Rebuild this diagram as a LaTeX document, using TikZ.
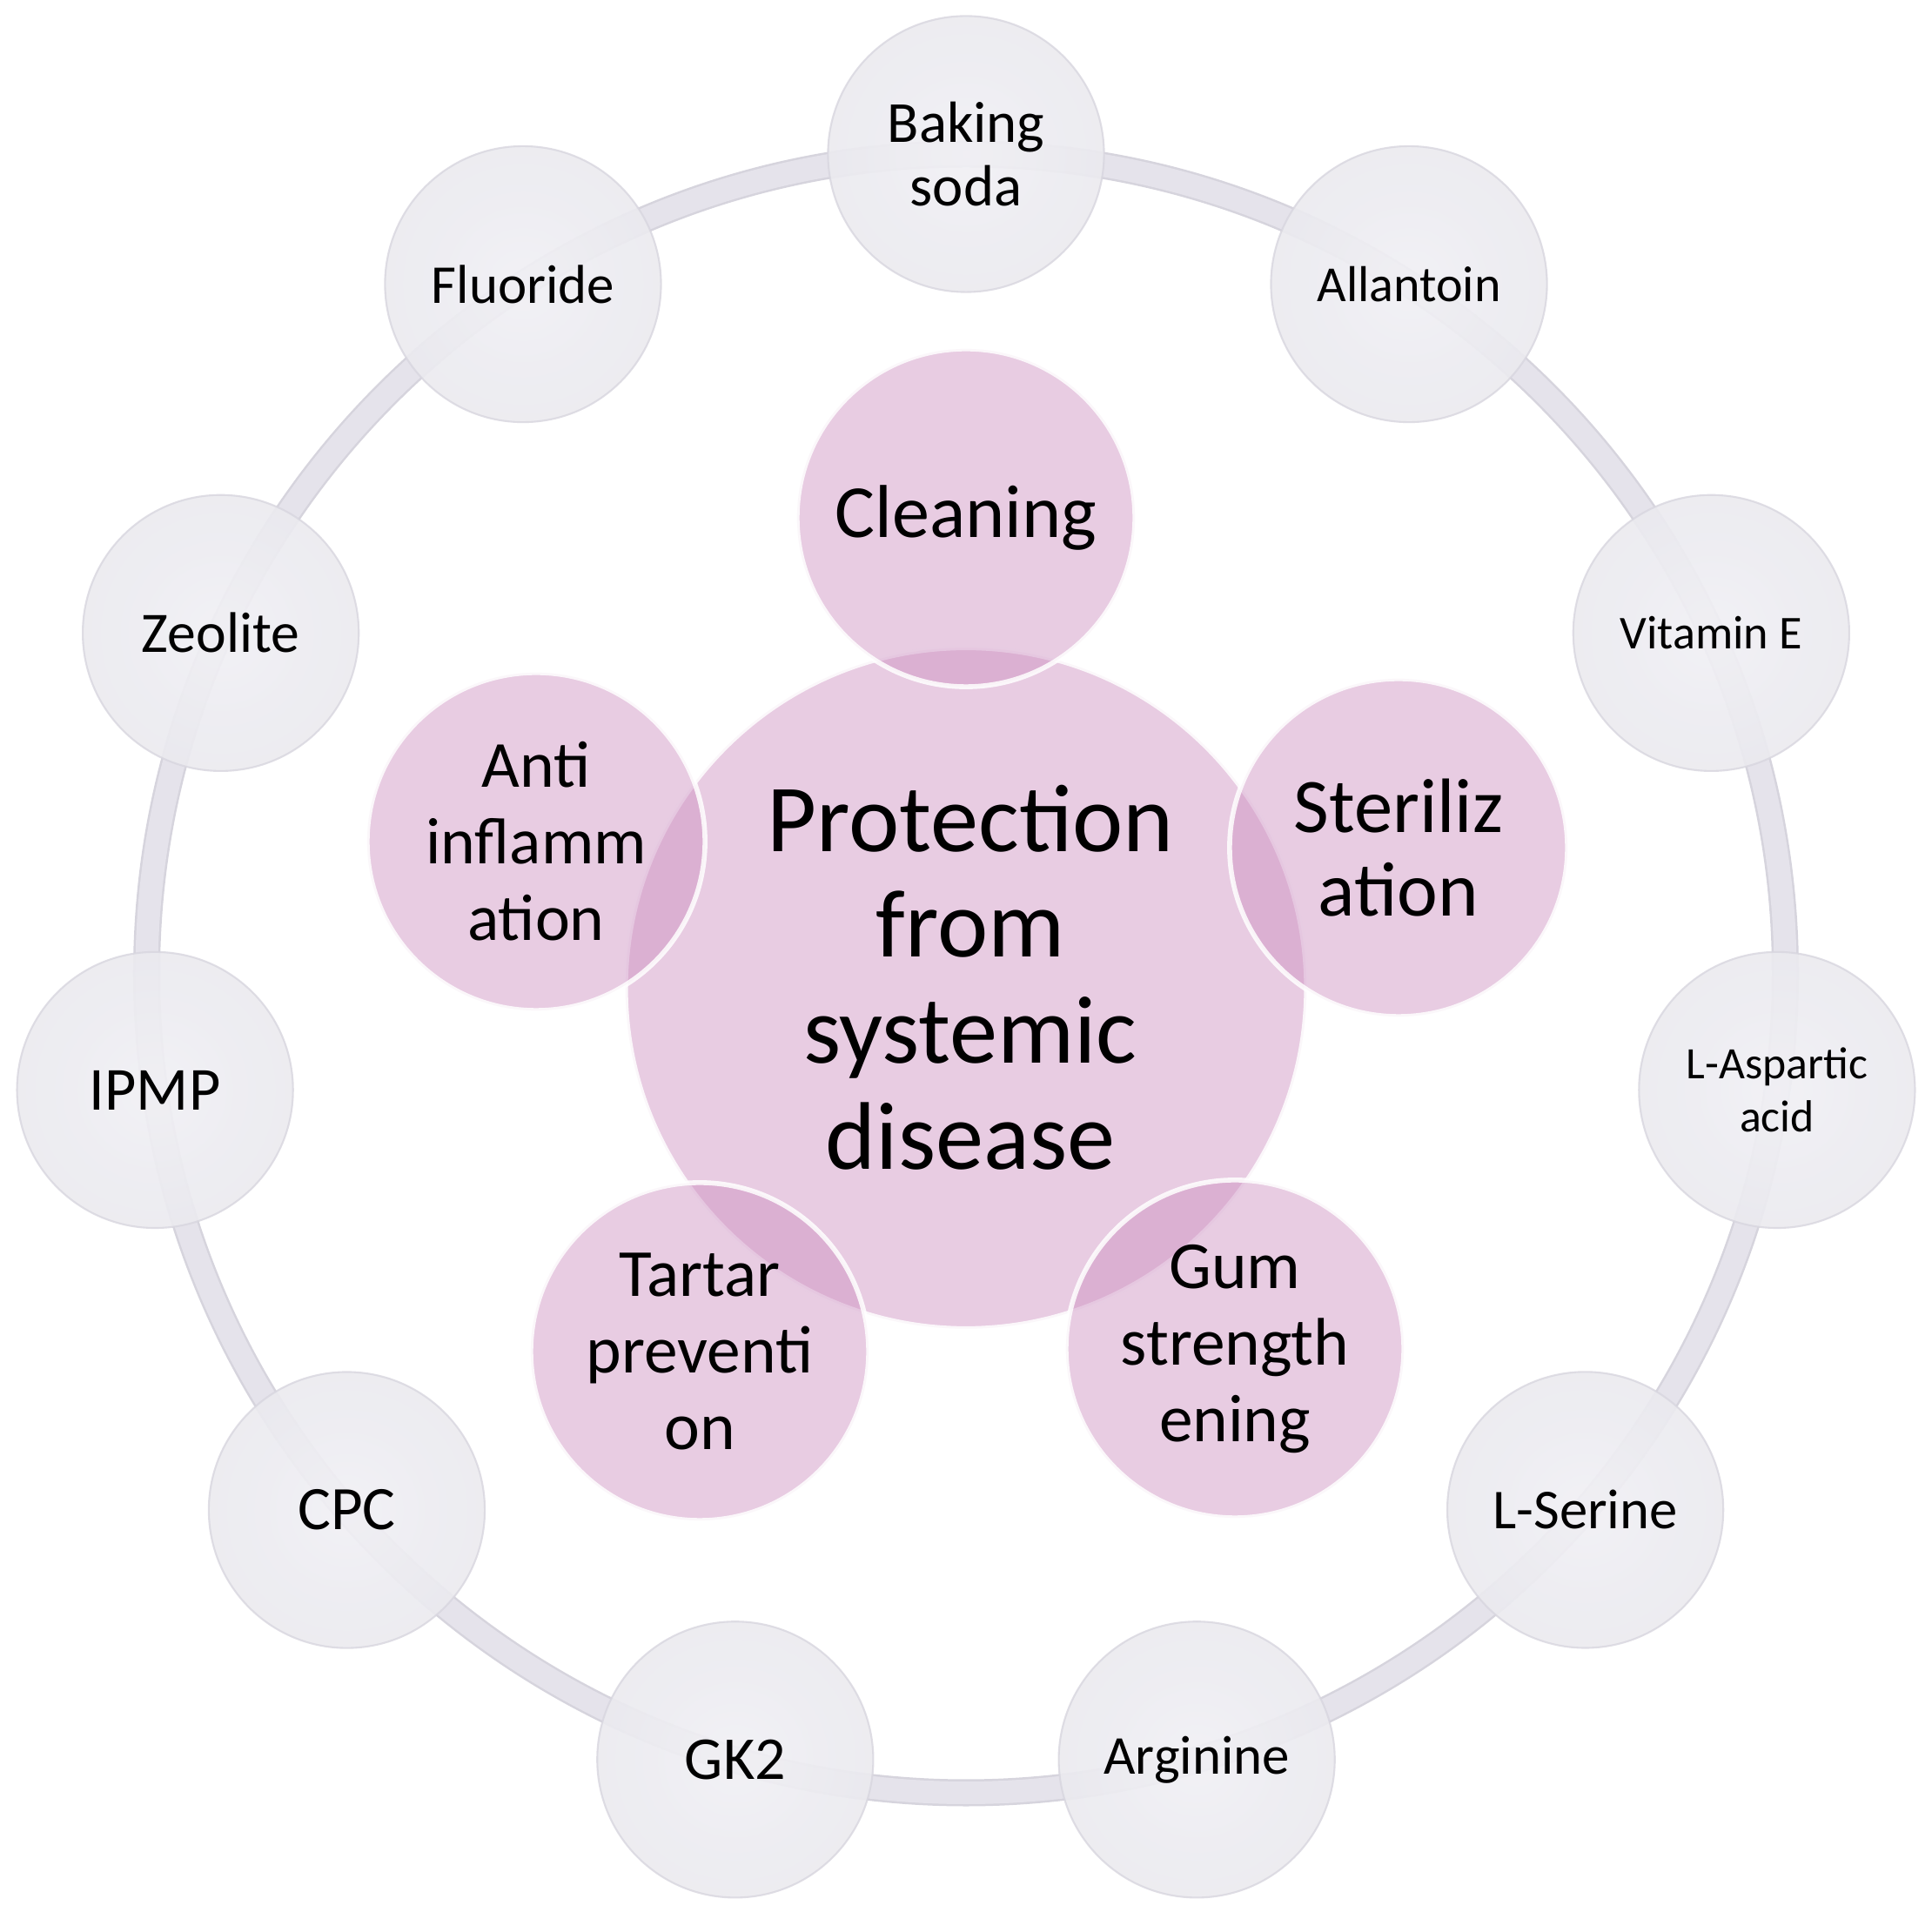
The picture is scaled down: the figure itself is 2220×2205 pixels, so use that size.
\documentclass[tikz,border=0pt]{standalone}
\usepackage{fontspec}
\setmainfont{Carlito}
\usetikzlibrary{calc}
\usepackage{xcolor}
\definecolor{glassbase}{HTML}{E5E4EB}
\definecolor{glassrim}{HTML}{D8D6DF}
\definecolor{ringband}{HTML}{E5E3EB}
\definecolor{ringedge}{HTML}{D6D4DD}
\definecolor{pinkbase}{RGB}{204,142,191}
\pgfdeclareradialshading{glassball}{\pgfpoint{0bp}{0bp}}{color(0bp)=(white!45!glassbase); color(26bp)=(white!20!glassbase); color(40bp)=(glassbase); color(45bp)=(glassbase!92!black); color(47.5bp)=(white); color(50bp)=(white!70!glassbase)}
\newcommand\fsz[2]{\fontsize{#1}{#2}\selectfont}

\begin{document}
\begin{tikzpicture}[x=0.01cm, y=0.01cm,
    outer/.style={circle, minimum size=3.17cm, inner sep=0pt, align=center, shade, shading=glassball, fill opacity=0.92, text opacity=1, draw=glassrim, draw opacity=0.8, line width=0.6pt},
    bubble/.style={circle, minimum size=3.88cm, inner sep=0pt, align=center, fill=pinkbase, fill opacity=0.45, text opacity=1, draw=white, draw opacity=0.85, line width=1.6pt},
    hub/.style={bubble, minimum size=7.82cm}]
    \useasboundingbox (0,0) rectangle (2220,2205);
    \coordinate (ringc) at (1110,1086.5);
    % ring behind the outer circles
    \draw[ringedge, line width=0.31cm] (ringc) circle (941.5);
    \draw[ringband, line width=0.26cm] (ringc) circle (941.5);
    % ingredients
    \node[outer, font=\fsz{19}{21}]     (bsoda)    at ($(ringc)+(90:941.5)$)     {Baking\\soda};
    \node[outer, font=\fsz{16.5}{19}]   (allant)   at ($(ringc)+(57.27:941.5)$)  {Allantoin};
    \node[outer, font=\fsz{15.4}{18}]   (vite)     at ($(ringc)+(24.55:941.5)$)  {Vitamin E};
    \node[outer, font=\fsz{14.7}{17.5}] (lasp)     at ($(ringc)+(-8.18:941.5)$)  {L-Aspartic\\acid};
    \node[outer, font=\fsz{18.4}{21}]   (lser)     at ($(ringc)+(-40.9:941.5)$)  {L-Serine};
    \node[outer, font=\fsz{17.9}{21}]   (argin)    at ($(ringc)+(-73.64:941.5)$) {Arginine};
    \node[outer, font=\fsz{19.9}{22}]   (gktwo)    at ($(ringc)+(-106.36:941.5)$) {GK2};
    \node[outer, font=\fsz{20.2}{22}]   (cpc)      at ($(ringc)+(-139.09:941.5)$) {CPC};
    \node[outer, font=\fsz{20}{22}]     (ipmp)     at ($(ringc)+(-171.82:941.5)$) {IPMP};
    \node[outer, font=\fsz{18.7}{21}]   (zeol)     at ($(ringc)+(155.45:941.5)$) {Zeolite};
    \node[outer, font=\fsz{17.9}{21}]   (fluor)    at ($(ringc)+(122.73:941.5)$) {Fluoride};
    % effects
    \node[hub] (hub) at (1110,1069.5) {};
    \node[font=\fsz{31.4}{34.6}, align=center] (hubtxt) at (1115,1082) {Protection\\from\\systemic\\disease};
    \node[bubble, font=\fsz{24.5}{28}] (clean) at (1110,1610) {Cleaning};
    \node[bubble, font=\fsz{25.2}{27.5}] (steril) at (1607,1231) {Steriliz\\ation};
    \node[bubble, font=\fsz{22}{25}] (gum) at (1419,655) {Gum\\strength\\ening};
    \node[bubble, font=\fsz{22}{25}] (tartar) at (804,652) {Tartar\\preventi\\on};
    \node[bubble, font=\fsz{21.5}{25}] (antiinf) at (616,1238) {Anti\\inflamm\\ation};
\end{tikzpicture}
\end{document}
